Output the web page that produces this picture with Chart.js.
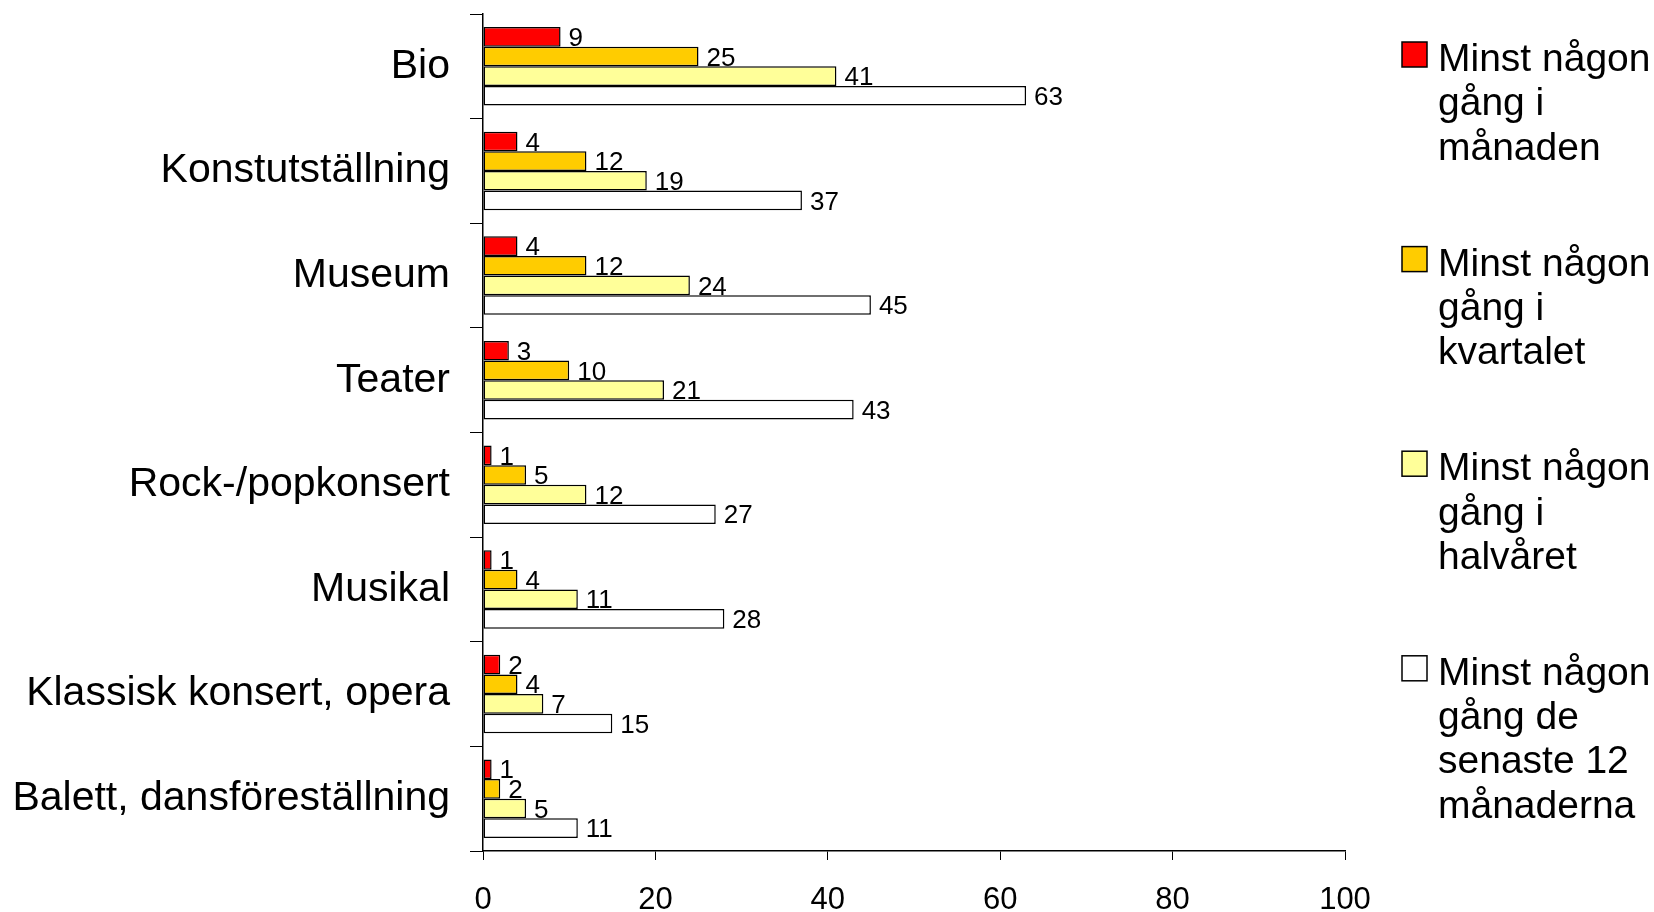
<!DOCTYPE html>
<html>
<head>
<meta charset="utf-8">
<script src="https://cdn.jsdelivr.net/npm/chart.js@4/dist/chart.umd.min.js"></script>
<style>
    html, body { margin: 0; padding: 0; background: #fff; }
    #wrap { width: 1654px; height: 912px; }
</style>
</head>
<body>
<div id="wrap"><canvas id="cultureChart" width="1654" height="912"></canvas></div>
<script>
const categories = ['Bio', 'Konstutställning', 'Museum', 'Teater', 'Rock-/popkonsert', 'Musikal', 'Klassisk konsert, opera', 'Balett, dansföreställning'];
const seriesNames = ['Minst någon gång i månaden', 'Minst någon gång i kvartalet', 'Minst någon gång i halvåret', 'Minst någon gång de senaste 12 månaderna'];
const monthValues = [9, 4, 4, 3, 1, 1, 2, 1];
const quarterValues = [25, 12, 12, 10, 5, 4, 4, 2];
const halfYearValues = [41, 19, 24, 21, 12, 11, 7, 5];
const yearValues = [63, 37, 45, 43, 27, 28, 15, 11];
const xTicks = [0, 20, 40, 60, 80, 100];
const colors = ['#ff0000', '#ffcc00', '#ffff99', '#ffffff'];

const FONT = '"Liberation Sans", Arial, sans-serif';

// value labels to the right of each bar
const valueLabels = {
    id: 'valueLabels',
    afterDatasetsDraw(chart) {
        const c = chart.ctx;
        c.save();
        c.font = '26px ' + FONT;
        c.fillStyle = '#000';
        c.textAlign = 'left';
        c.textBaseline = 'middle';
        chart.data.datasets.forEach((ds, i) => {
            chart.getDatasetMeta(i).data.forEach((bar, j) => {
                c.fillText(String(ds.data[j]), bar.x + 8, bar.y + 2);
            });
        });
        c.restore();
    }
};

// legend on the right with wrapped text
const sideLegend = {
    id: 'sideLegend',
    afterDraw(chart) {
        const c = chart.ctx;
        const boxX = 1402, textX = 1438, top0 = 42, step = 204.6, lineH = 44.3;
        const maxW = chart.width - textX - 1;
        c.save();
        c.font = '39px ' + FONT;
        c.textBaseline = 'alphabetic';
        c.textAlign = 'left';
        chart.data.datasets.forEach((ds, i) => {
            const top = top0 + i * step;
            c.fillStyle = ds.backgroundColor;
            c.fillRect(boxX, top, 25, 25);
            c.strokeStyle = '#000';
            c.lineWidth = 1.5;
            c.strokeRect(boxX, top, 25, 25);

            const lines = [];
            let line = '';
            ds.label.split(' ').forEach(word => {
                const test = line ? line + ' ' + word : word;
                if (line && c.measureText(test).width > maxW) {
                    lines.push(line);
                    line = word;
                } else {
                    line = test;
                }
            });
            lines.push(line);

            c.fillStyle = '#000';
            lines.forEach((t, k) => c.fillText(t, textX, top + 29 + k * lineH));
        });
        c.restore();
    }
};

const ctx = document.getElementById('cultureChart').getContext('2d');
const chart = new Chart(ctx, {
    type: 'bar',
    data: {
        labels: categories,
        datasets: [monthValues, quarterValues, halfYearValues, yearValues].map((vals, i) => ({
            label: seriesNames[i],
            data: vals,
            backgroundColor: colors[i],
            borderColor: '#000',
            borderWidth: 1.5,
            borderSkipped: false,
            categoryPercentage: 0.75,
            barPercentage: 1
        }))
    },
    options: {
        indexAxis: 'y',
        responsive: false,
        animation: false,
        layout: { padding: { left: 13, right: 309, top: 14, bottom: 1 } },
        plugins: {
            legend: { display: false },
            tooltip: { enabled: false }
        },
        scales: {
            x: {
                min: 0,
                max: 100,
                afterBuildTicks(scale) {
                    scale.ticks = xTicks.map(v => ({ value: v }));
                },
                afterFit(scale) {
                    scale.height = 60;
                },
                grid: { drawOnChartArea: false, tickLength: 9, color: '#000', lineWidth: 1 },
                border: { color: '#000', width: 1.5 },
                ticks: { color: '#000', padding: 25, maxRotation: 0, font: { family: FONT, size: 31, lineHeight: 1 } }
            },
            y: {
                afterFit(scale) {
                    scale.width = 470;
                    scale.paddingTop = 0;
                    scale.paddingBottom = 0;
                },
                grid: { drawOnChartArea: false, offset: true, tickLength: 13, color: '#000', lineWidth: 1 },
                border: { color: '#000', width: 1.5 },
                ticks: { color: '#000', padding: 20, font: { family: FONT, size: 41 } }
            }
        }
    },
    plugins: [valueLabels, sideLegend]
});
</script>
</body>
</html>
